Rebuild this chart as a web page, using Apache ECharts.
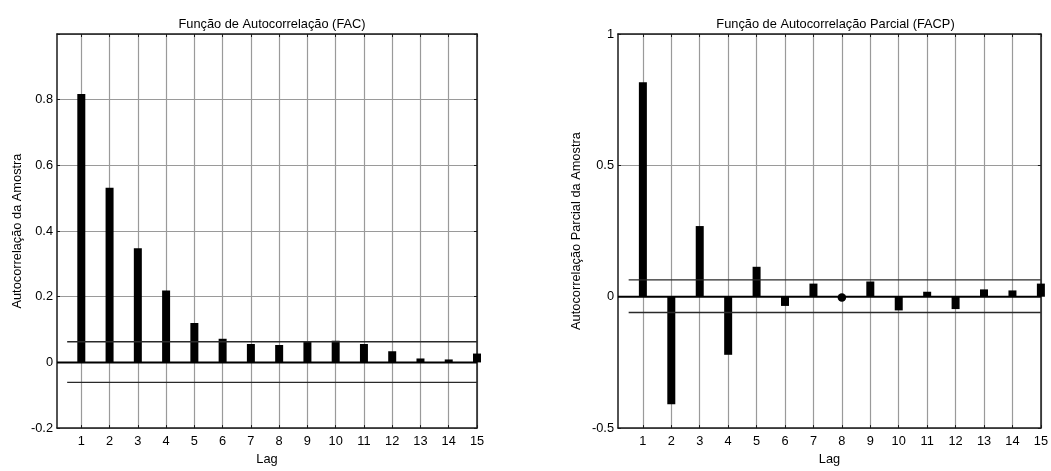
<!DOCTYPE html>
<html>
<head>
<meta charset="utf-8">
<script src="https://cdn.jsdelivr.net/npm/echarts@6/dist/echarts.min.js"></script>
<style>
html,body{margin:0;padding:0;background:#fff;}
#c{width:1051px;height:471px;}
</style>
</head>
<body>
<div id="c"></div>
<script>
// ---- data ----
const lags = [1,2,3,4,5,6,7,8,9,10,11,12,13,14,15];
const acf  = [0.817,0.532,0.348,0.219,0.120,0.072,0.056,0.053,0.063,0.066,0.056,0.034,0.012,0.009,0.027];
const pacf = [0.816,-0.409,0.269,-0.221,0.114,-0.035,0.050,-0.003,0.058,-0.052,0.019,-0.047,0.028,0.024,0.050];
const acfBounds  = [0.063,-0.061];
const pacfBounds = [0.064,-0.060];
const boundStartLag = 0.5;
const pacfMarkerLags = [8];
const titles = ['Função de Autocorrelação (FAC)','Função de Autocorrelação Parcial (FACP)'];
const yNames = ['Autocorrelação da Amostra','Autocorrelação Parcial da Amostra'];
const xName = 'Lag';
const acfYTicks = [-0.2,0,0.2,0.4,0.6,0.8];
const pacfYTicks = [-0.5,0,0.5,1];

const FONT = 'Liberation Sans, Arial, sans-serif';
const FS = 12.8;
const grids = [
  {left:57, top:34, width:420, height:399},
  {left:618, top:34, width:425, height:399}
];
const xRanges = [[0.14,15],[0.125,15]];
const yRanges = [[-0.2,1,0.2],[-0.5,1,0.5]];

const frame = {show:true, onZero:false, lineStyle:{color:'#1a1a1a', width:1.5}};
const tick = {show:true, inside:true, length:3, lineStyle:{color:'#1a1a1a'}};
const grid = {show:true, lineStyle:{color:'#9a9a9a', type:'solid', width:1.2}};

function xAxes(i){
  const [mn,mx] = xRanges[i];
  return [
    {gridIndex:i, type:'value', min:mn, max:mx, position:'bottom',
     axisLine:frame, axisTick:Object.assign({customValues:lags},tick),
     axisLabel:{customValues:lags, fontFamily:FONT, fontSize:FS, color:'#000', margin:7},
     splitLine:grid,
     name:xName, nameLocation:'middle', nameGap:23,
     nameTextStyle:{fontFamily:FONT, fontSize:FS, color:'#000'}},
    {gridIndex:i, type:'value', min:mn, max:mx, position:'top',
     axisLine:frame, axisTick:Object.assign({customValues:lags},tick),
     axisLabel:{show:false, customValues:lags}, splitLine:{show:false}}
  ];
}
function yAxes(i, ticks){
  const [mn,mx,iv] = yRanges[i];
  return [
    {gridIndex:i, type:'value', min:mn, max:mx, interval:iv, position:'left',
     axisLine:frame, axisTick:tick,
     axisLabel:{fontFamily:FONT, fontSize:FS, color:'#000', margin:4,
       formatter:v=>{const r=+(+v).toFixed(2); return ticks.indexOf(r)>=0 ? String(r) : '';}},
     splitLine:grid,
     name:yNames[i], nameLocation:'middle', nameRotate:90, nameGap:i===0?33:35,
     nameTextStyle:{fontFamily:FONT, fontSize:FS, color:'#000'}},
    {gridIndex:i, type:'value', min:mn, max:mx, interval:iv, position:'right',
     axisLine:frame, axisTick:tick, axisLabel:{show:false}, splitLine:{show:false}}
  ];
}

function seriesFor(i, vals, bounds, xi, yi){
  const xmax = xRanges[i][1];
  const xmin = xRanges[i][0];
  return [
    {type:'bar', xAxisIndex:xi, yAxisIndex:yi, barWidth:8, z:3,
     itemStyle:{color:'#000'}, data:lags.map((l,k)=>[l,vals[k]])},
    {type:'line', xAxisIndex:xi, yAxisIndex:yi, symbol:'none', z:4,
     lineStyle:{color:'#000', width:2}, data:[[xmin,0],[xmax,0]]},
    {type:'line', xAxisIndex:xi, yAxisIndex:yi, symbol:'none', z:4,
     lineStyle:{color:'#2a2a2a', width:1.3}, data:[[boundStartLag,bounds[0]],[xmax,bounds[0]]]},
    {type:'line', xAxisIndex:xi, yAxisIndex:yi, symbol:'none', z:4,
     lineStyle:{color:'#2a2a2a', width:1.3}, data:[[boundStartLag,bounds[1]],[xmax,bounds[1]]]}
  ];
}

const series = [].concat(
  seriesFor(0, acf, acfBounds, 0, 0),
  seriesFor(1, pacf, pacfBounds, 2, 2),
  [{type:'scatter', xAxisIndex:2, yAxisIndex:2, symbol:'circle', symbolSize:8.5, z:5,
    itemStyle:{color:'#000', opacity:1},
    data:pacfMarkerLags.map(l=>[l, pacf[lags.indexOf(l)]])}]
);

const chart = echarts.init(document.getElementById('c'), null, {renderer:'canvas'});
chart.setOption({
  backgroundColor:'#fff',
  animation:false,
  title:[
    {text:titles[0], left:grids[0].left+grids[0].width/2, textAlign:'center', top:13,
     textStyle:{fontFamily:FONT, fontSize:FS, fontWeight:'normal', color:'#000'}},
    {text:titles[1], left:grids[1].left+grids[1].width/2, textAlign:'center', top:13,
     textStyle:{fontFamily:FONT, fontSize:FS, fontWeight:'normal', color:'#000'}}
  ],
  grid:grids,
  xAxis:[].concat(xAxes(0), xAxes(1)),
  yAxis:[].concat(yAxes(0, acfYTicks), yAxes(1, pacfYTicks)),
  series:series
});
</script>
</body>
</html>
